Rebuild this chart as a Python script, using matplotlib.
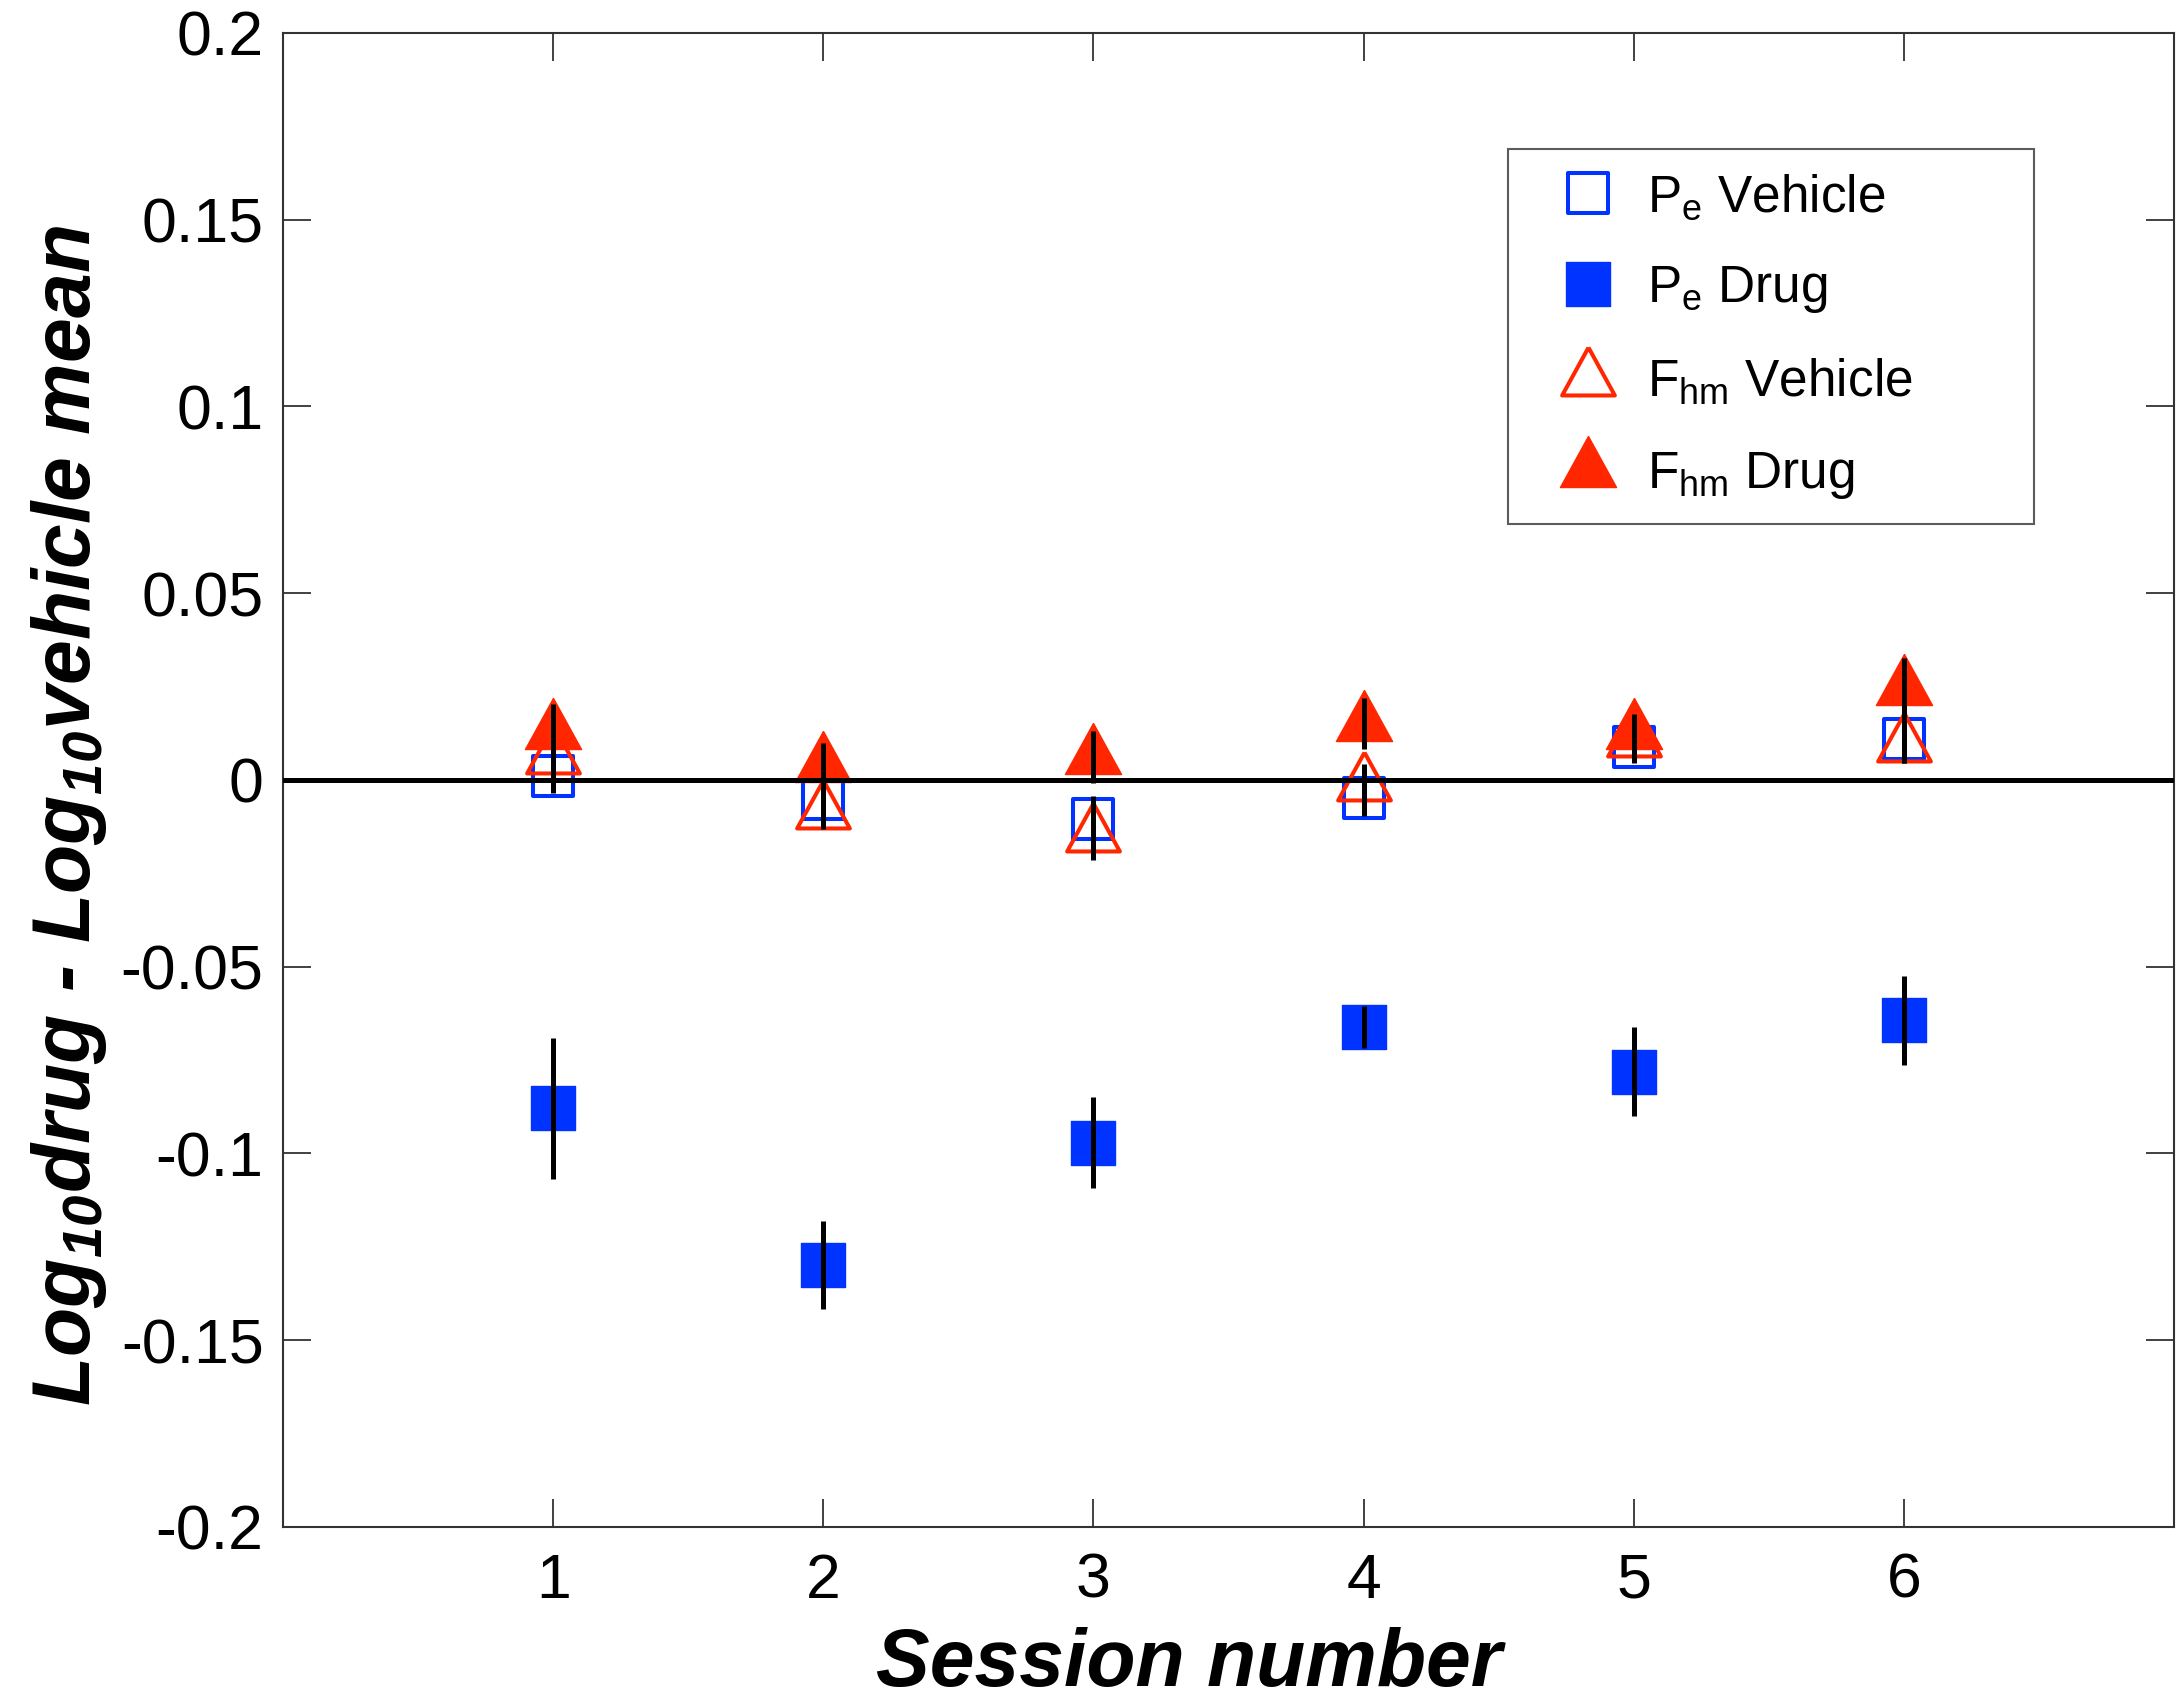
import numpy as np
import matplotlib
matplotlib.use("Agg")
import matplotlib.pyplot as plt
from matplotlib.markers import MarkerStyle

plt.rcParams['font.family'] = ['Liberation Sans', 'DejaVu Sans']
plt.rcParams['mathtext.fontset'] = 'custom'
plt.rcParams['mathtext.rm'] = 'Liberation Sans'
plt.rcParams['mathtext.it'] = 'Liberation Sans:italic'
plt.rcParams['mathtext.bf'] = 'Liberation Sans:bold'
plt.rcParams['mathtext.bfit'] = 'Liberation Sans:italic:bold'

# session means (log10 drug - log10 vehicle mean) and error bar half-lengths
session = [1, 2, 3, 4, 5, 6]
pe_vehicle = [0.0011, -0.0052, -0.0104, -0.0049, 0.0088, 0.0110]
pe_vehicle_err = [0.0045, 0.0050, 0.0060, 0.0047, 0.0042, 0.0064]
pe_drug = [-0.0879, -0.1299, -0.0971, -0.0661, -0.0781, -0.0643]
pe_drug_err = [0.0189, 0.0117, 0.0122, 0.0056, 0.0120, 0.0119]
fhm_vehicle = [0.0062, -0.0086, -0.0148, -0.0012, 0.0106, 0.0093]
fhm_vehicle_err = [0.0060, 0.0046, 0.0067, 0.0054, 0.0050, 0.0047]
fhm_drug = [0.0129, 0.0039, 0.0062, 0.0151, 0.0129, 0.0245]
fhm_drug_err = [0.0074, 0.0061, 0.0069, 0.0069, 0.0047, 0.0082]

ytick_vals = [-0.2, -0.15, -0.1, -0.05, 0, 0.05, 0.1, 0.15, 0.2]
ytick_text = ['-0.2', '-0.15', '-0.1', '-0.05', '0', '0.05', '0.1', '0.15', '0.2']

blue = '#0033ff'
red = '#ff2600'

# triangle centred on its centroid
tri_verts = [(0, 2/3), (-0.55, -1/3), (0.55, -1/3), (0, 2/3)]
sq = MarkerStyle('s', joinstyle='round')
tri = MarkerStyle(tri_verts, joinstyle='miter')

fig = plt.figure(figsize=(21.77, 17.04), dpi=100)
ax = fig.add_axes([0.130, 0.1039, 0.8686, 0.8768])

ax.plot(session, pe_vehicle, linestyle='', marker=sq, ms=29.5, mfc='white',
        mec=blue, mew=2.9, zorder=2, label=r'P$_\mathregular{e}$ Vehicle')
ax.plot(session, pe_drug, linestyle='', marker=sq, ms=32, mfc=blue,
        mec=blue, mew=1, zorder=2, label=r'P$_\mathregular{e}$ Drug')
ax.plot(session, fhm_vehicle, linestyle='', marker=tri, ms=46, mfc='none',
        mec=red, mew=2.9, zorder=3, label=r'F$_\mathregular{hm}$ Vehicle')
ax.plot(session, fhm_drug, linestyle='', marker=tri, ms=49, mfc=red,
        mec=red, mew=1, zorder=3, label=r'F$_\mathregular{hm}$ Drug')

for vals, errs in [(pe_vehicle, pe_vehicle_err), (pe_drug, pe_drug_err),
                   (fhm_vehicle, fhm_vehicle_err), (fhm_drug, fhm_drug_err)]:
    ax.errorbar(session, vals, yerr=errs, fmt='none', ecolor='k',
                elinewidth=3.6, capsize=0, zorder=5)

ax.axhline(0, color='k', lw=3.6, zorder=4)

ax.set_xlim(0, 7)
ax.set_ylim(-0.2, 0.2)
ax.set_xticks(session)
ax.set_yticks(ytick_vals)
ax.set_yticklabels(ytick_text)
ax.tick_params(direction='in', length=20, width=1.3, color='#333333',
               labelsize=45, top=True, right=True)
ax.tick_params(axis='y', pad=14)
ax.tick_params(axis='x', pad=18)
for s in ax.spines.values():
    s.set_linewidth(1.5)
    s.set_color('#333333')

ax.set_xlabel('Session number', fontsize=58, fontweight='bold', style='italic')
ax.xaxis.set_label_coords(0.479, -0.067)
ax.set_ylabel(r'Log$_{\mathbfit{10}}$drug - Log$_{\mathbfit{10}}$vehicle mean',
              fontsize=58, fontweight='bold', style='italic', va='center')
ax.yaxis.set_label_coords(-0.113, 0.476)

leg = ax.legend(loc='upper left', bbox_to_anchor=(0.648, 0.672, 0.278, 0.25),
                mode='expand', borderaxespad=0, fontsize=37, frameon=True,
                fancybox=False, edgecolor='#333333', handlelength=2.2,
                handletextpad=0.05, labelspacing=0.82, borderpad=0.45,
                numpoints=1, markerscale=1.0)
leg.get_frame().set_linewidth(1.5)

fig.savefig('out.png', dpi=100)
